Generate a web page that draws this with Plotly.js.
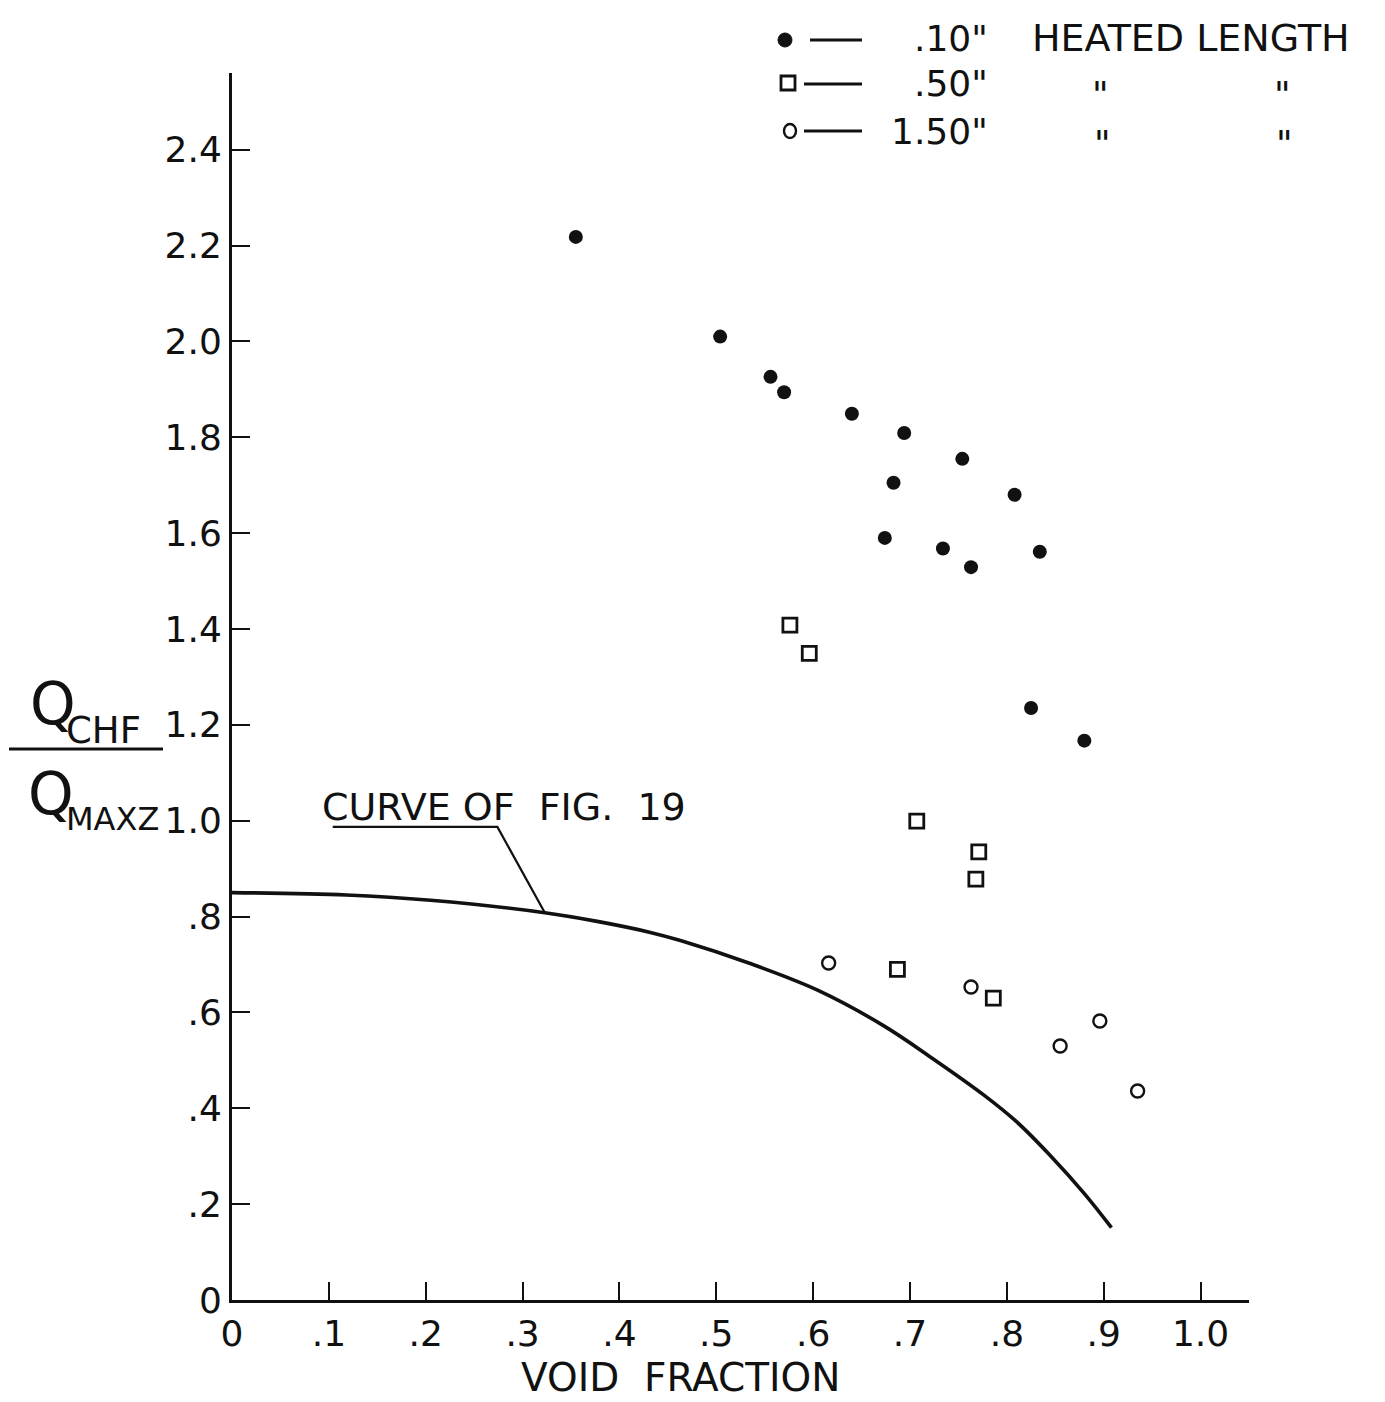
<!DOCTYPE html>
<html>
<head>
<meta charset="utf-8">
<script src="https://cdn.plot.ly/plotly-3.0.1.min.js"></script>
<style>html,body{margin:0;padding:0;background:#fff;}</style>
</head>
<body>
<div id="chart" style="width:1385px;height:1402px;"></div>
<script>
// ---- Data ----
const filled10_x = [0.355, 0.504, 0.556, 0.570, 0.640, 0.694, 0.754, 0.683, 0.808, 0.674, 0.734, 0.763, 0.834, 0.825, 0.880];
const filled10_y = [2.218, 2.010, 1.926, 1.894, 1.849, 1.809, 1.755, 1.705, 1.680, 1.590, 1.568, 1.529, 1.561, 1.235, 1.167];

const square50_x = [0.576, 0.596, 0.707, 0.771, 0.768, 0.687, 0.786];
const square50_y = [1.408, 1.349, 0.999, 0.935, 0.878, 0.690, 0.630];

const circle150_x = [0.616, 0.763, 0.855, 0.896, 0.935];
const circle150_y = [0.703, 0.653, 0.530, 0.582, 0.436];

const curve19_x = [0, 0.118, 0.205, 0.323, 0.377, 0.432, 0.463, 0.535, 0.604, 0.673, 0.724, 0.776, 0.810, 0.845, 0.880, 0.908];
const curve19_y = [0.850, 0.845, 0.834, 0.808, 0.790, 0.767, 0.750, 0.702, 0.647, 0.572, 0.503, 0.428, 0.372, 0.301, 0.222, 0.151];

const xTickVals = [0, 0.1, 0.2, 0.3, 0.4, 0.5, 0.6, 0.7, 0.8, 0.9, 1.0];
const xTickText = ["0", ".1", ".2", ".3", ".4", ".5", ".6", ".7", ".8", ".9", "1.0"];
const yTickVals = [0, 0.2, 0.4, 0.6, 0.8, 1.0, 1.2, 1.4, 1.6, 1.8, 2.0, 2.2, 2.4];
const yTickText = ["0", ".2", ".4", ".6", ".8", "1.0", "1.2", "1.4", "1.6", "1.8", "2.0", "2.2", "2.4"];

const legendLabels = ['.10"', '.50"', '1.50"'];
const legendHeader = "HEATED LENGTH";
const curveLabel = "CURVE OF&nbsp; FIG.&nbsp; 19";
const xTitle = "VOID&nbsp;&nbsp;FRACTION";

// ---- Layout helpers (pixel -> paper) ----
const L = 232, R = 1249, T = 73, B = 1300;
const px = v => (v - L) / (R - L);
const py = v => (B - v) / (B - T);

const FONT = "DejaVu Sans, Liberation Sans, sans-serif";
const INK = "#111";

const traces = [
  {
    x: curve19_x, y: curve19_y, mode: "lines", type: "scatter",
    line: {color: INK, width: 3.6, shape: "spline", smoothing: 1.0},
    hoverinfo: "skip"
  },
  {
    x: filled10_x, y: filled10_y, mode: "markers", type: "scatter",
    marker: {symbol: "circle", size: 14, color: INK, line: {width: 0}}
  },
  {
    x: square50_x, y: square50_y, mode: "markers", type: "scatter",
    marker: {symbol: "square-open", size: 14, color: INK, line: {width: 2.8, color: INK}}
  },
  {
    x: circle150_x, y: circle150_y, mode: "markers", type: "scatter",
    marker: {symbol: "circle-open", size: 13, color: INK, line: {width: 2.4, color: INK}}
  }
];

const annotations = [
  // axis title
  {xref: "paper", yref: "paper", x: px(680), y: py(1402), text: xTitle, showarrow: false,
   xanchor: "center", yanchor: "bottom", font: {family: FONT, size: 39, color: INK}},
  // y title fraction
  {xref: "paper", yref: "paper", x: px(28), y: py(704), text: "Q", showarrow: false,
   xanchor: "left", yanchor: "middle", font: {family: FONT, size: 58, color: INK}},
  {xref: "paper", yref: "paper", x: px(64), y: py(731), text: "CHF", showarrow: false,
   xanchor: "left", yanchor: "middle", font: {family: FONT, size: 37, color: INK}},
  {xref: "paper", yref: "paper", x: px(26), y: py(794), text: "Q", showarrow: false,
   xanchor: "left", yanchor: "middle", font: {family: FONT, size: 58, color: INK}},
  {xref: "paper", yref: "paper", x: px(64), y: py(819), text: "MAXZ", showarrow: false,
   xanchor: "left", yanchor: "middle", font: {family: FONT, size: 32, color: INK}},
  // curve label
  {xref: "paper", yref: "paper", x: px(320), y: py(807), text: curveLabel, showarrow: false,
   xanchor: "left", yanchor: "middle", font: {family: FONT, size: 38, color: INK}},
  // legend texts
  {xref: "paper", yref: "paper", x: px(990), y: py(38), text: legendLabels[0], showarrow: false,
   xanchor: "right", yanchor: "middle", font: {family: FONT, size: 36, color: INK}},
  {xref: "paper", yref: "paper", x: px(990), y: py(84), text: legendLabels[1], showarrow: false,
   xanchor: "right", yanchor: "middle", font: {family: FONT, size: 36, color: INK}},
  {xref: "paper", yref: "paper", x: px(990), y: py(131), text: legendLabels[2], showarrow: false,
   xanchor: "right", yanchor: "middle", font: {family: FONT, size: 36, color: INK}},
  {xref: "paper", yref: "paper", x: px(1030), y: py(38), text: legendHeader, showarrow: false,
   xanchor: "left", yanchor: "middle", font: {family: FONT, size: 38, color: INK}},
  {xref: "paper", yref: "paper", x: px(1100), y: py(94), text: '"', showarrow: false,
   xanchor: "center", yanchor: "middle", font: {family: FONT, size: 36, color: INK}},
  {xref: "paper", yref: "paper", x: px(1282), y: py(94), text: '"', showarrow: false,
   xanchor: "center", yanchor: "middle", font: {family: FONT, size: 36, color: INK}},
  {xref: "paper", yref: "paper", x: px(1102), y: py(143), text: '"', showarrow: false,
   xanchor: "center", yanchor: "middle", font: {family: FONT, size: 36, color: INK}},
  {xref: "paper", yref: "paper", x: px(1284), y: py(143), text: '"', showarrow: false,
   xanchor: "center", yanchor: "middle", font: {family: FONT, size: 36, color: INK}}
];

const shapes = [
  // fraction bar of y title
  {type: "line", xref: "paper", yref: "paper", x0: px(9), x1: px(163), y0: py(749), y1: py(749),
   line: {color: INK, width: 3}},
  // leader line for curve label
  {type: "path", xref: "x", yref: "y",
   path: "M 0.104,0.987 L 0.274,0.987 L 0.323,0.808",
   line: {color: INK, width: 2.2}},
  // legend symbols
  {type: "circle", xref: "paper", yref: "paper", xsizemode: "pixel", ysizemode: "pixel",
   xanchor: px(785), yanchor: py(40), x0: -7, x1: 7, y0: -7, y1: 7,
   fillcolor: INK, line: {color: INK, width: 1}},
  {type: "rect", xref: "paper", yref: "paper", xsizemode: "pixel", ysizemode: "pixel",
   xanchor: px(788), yanchor: py(83), x0: -7, x1: 7, y0: -7, y1: 7,
   line: {color: INK, width: 2.8}},
  {type: "circle", xref: "paper", yref: "paper", xsizemode: "pixel", ysizemode: "pixel",
   xanchor: px(790), yanchor: py(131), x0: -6, x1: 6, y0: -7, y1: 7,
   line: {color: INK, width: 2.4}},
  // legend dashes
  {type: "line", xref: "paper", yref: "paper", x0: px(810), x1: px(862), y0: py(40), y1: py(40),
   line: {color: INK, width: 2.8}},
  {type: "line", xref: "paper", yref: "paper", x0: px(804), x1: px(862), y0: py(84), y1: py(84),
   line: {color: INK, width: 2.8}},
  {type: "line", xref: "paper", yref: "paper", x0: px(804), x1: px(862), y0: py(131), y1: py(131),
   line: {color: INK, width: 2.8}}
];

const layout = {
  width: 1385, height: 1402,
  margin: {l: L, r: 1385 - R, t: T, b: 1402 - B, pad: 0},
  paper_bgcolor: "#fff", plot_bgcolor: "#fff",
  showlegend: false,
  xaxis: {
    range: [0, 1.05], tickmode: "array", tickvals: xTickVals, ticktext: xTickText,
    ticks: "inside", ticklen: 18, tickwidth: 2, tickcolor: INK,
    showline: true, linecolor: INK, linewidth: 3, showgrid: false, zeroline: false,
    tickfont: {family: FONT, size: 36, color: INK}, ticklabelstandoff: 0
  },
  yaxis: {
    range: [0, 2.56], tickmode: "array", tickvals: yTickVals, ticktext: yTickText,
    ticks: "inside", ticklen: 18, tickwidth: 2, tickcolor: INK,
    showline: true, linecolor: INK, linewidth: 3, showgrid: false, zeroline: false,
    tickfont: {family: FONT, size: 36, color: INK}, ticklabelstandoff: 0
  },
  annotations: annotations,
  shapes: shapes
};

Plotly.newPlot("chart", traces, layout, {staticPlot: true, displayModeBar: false});
</script>
</body>
</html>
